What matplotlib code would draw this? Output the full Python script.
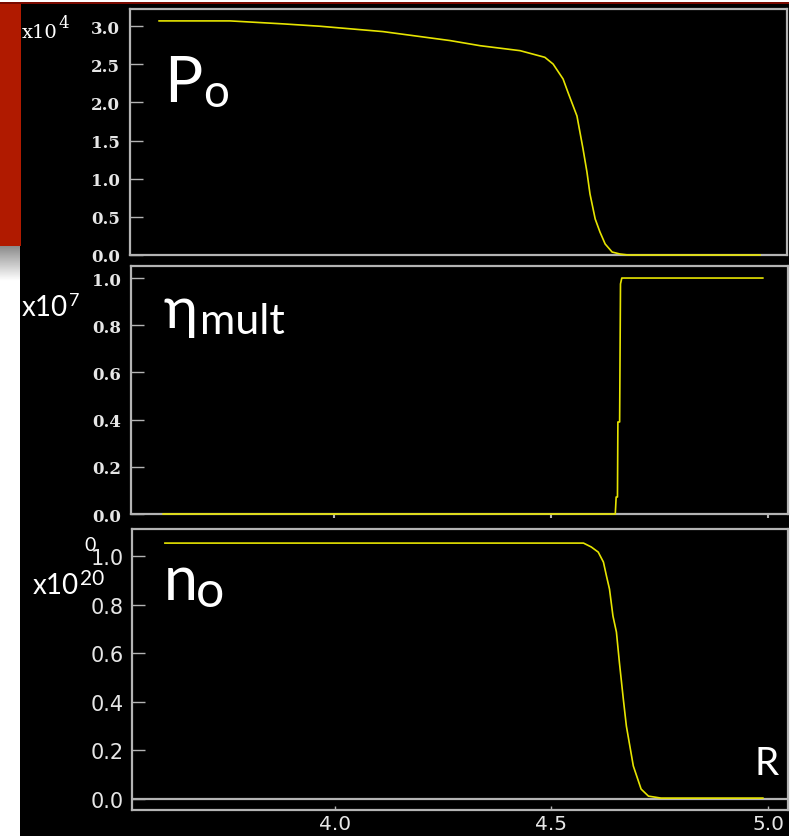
import numpy as np
import matplotlib
matplotlib.use('Agg')
import matplotlib.pyplot as plt
from matplotlib.patches import Rectangle

# Profile data (R on x, values in the multiplier units)
r_p = [3.599, 3.763, 3.885, 3.970, 4.115, 4.270, 4.339, 4.431, 4.488, 4.507,
       4.530, 4.541, 4.562, 4.576, 4.585, 4.592, 4.604, 4.615, 4.627, 4.643,
       4.661, 4.680, 4.984]
p_o = [3.067, 3.067, 3.028, 2.997, 2.927, 2.809, 2.742, 2.677, 2.590, 2.502,
       2.306, 2.135, 1.821, 1.389, 1.087, 0.80, 0.472, 0.301, 0.144, 0.039,
       0.013, 0.0, 0.0]

r_eta = [3.606, 4.648, 4.650, 4.653, 4.654, 4.658, 4.660, 4.663, 4.988]
eta = [0.0, 0.0, 0.072, 0.072, 0.39, 0.39, 0.975, 1.0, 1.0]

r_n = [3.608, 4.574, 4.592, 4.608, 4.620, 4.627, 4.634, 4.642, 4.650, 4.657,
       4.666, 4.673, 4.689, 4.707, 4.724, 4.753, 4.988]
n_o = [1.053, 1.053, 1.037, 1.016, 0.975, 0.918, 0.864, 0.753, 0.687, 0.56,
       0.41, 0.30, 0.136, 0.041, 0.012, 0.004, 0.004]

p_ticks = [0.0, 0.5, 1.0, 1.5, 2.0, 2.5, 3.0]
frac_ticks = [0.0, 0.2, 0.4, 0.6, 0.8, 1.0]
r_ticks = [4.0, 4.5, 5.0]

W, H = 798, 837
XLIM = (3.532, 5.046)
LINE = '#e6e400'
SPINE = '#b4b4b4'
LABEL = '#e6e6e6'


def box(x0, y0, x1, y1):
    # pixel box (top-left origin) -> figure fraction rect
    return [x0 / W, 1 - y1 / H, (x1 - x0) / W, (y1 - y0) / H]


def ftext(x, y, s, **kw):
    kw.setdefault('color', 'white')
    kw.setdefault('va', 'baseline')
    return fig.text(x / W, 1 - y / H, s, **kw)


def power(x, y, base, exp, y_exp, size, exp_size, family):
    # "x10" followed by a raised exponent placed right after it
    t = ftext(x, y, base, family=family, size=size)
    bb = t.get_window_extent(renderer=fig.canvas.get_renderer())
    fig.text(bb.x1 / W + 1 / W, 1 - y_exp / H, exp, color='white', va='baseline',
             family=family, size=exp_size)


fig = plt.figure(figsize=(W / 100, H / 100), dpi=100)
fig.patch.set_facecolor('white')

# slide background: black panel, red bar on the left, red rule on top
fig.patches.append(Rectangle((20 / W, 0), 769 / W, 1 - 5 / H, transform=fig.transFigure,
                             facecolor='black', edgecolor='none', zorder=-10))
fig.patches.append(Rectangle((0, 1 - 247 / H), 21 / W, 242 / H, transform=fig.transFigure,
                             facecolor='#b01a00', edgecolor='none', zorder=-9))
fig.patches.append(Rectangle((0, 1 - 5 / H), 789 / W, 2 / H, transform=fig.transFigure,
                             facecolor='#7a0a00', edgecolor='none', zorder=-9))
gax = fig.add_axes(box(0, 247, 20, 282))
gax.imshow(np.linspace(0.55, 1.0, 50).reshape(-1, 1), cmap='gray', vmin=0, vmax=1,
           aspect='auto')
gax.axis('off')


def style(ax, ylim, yticks, yfont):
    ax.set_facecolor('black')
    ax.set_xlim(*XLIM)
    ax.set_ylim(*ylim)
    for s in ax.spines.values():
        s.set_color(SPINE)
        s.set_linewidth(1.6)
    ax.set_yticks(yticks)
    ax.set_yticklabels([f'{v:.1f}' for v in yticks], fontdict=yfont, color=LABEL)
    ax.tick_params(axis='y', direction='in', length=9.5, width=1, color=SPINE, pad=7)


serif = {'family': 'DejaVu Serif', 'size': 12, 'weight': 'bold'}
plain = {'family': 'DejaVu Sans', 'size': 15}

# P_o panel
ax1 = fig.add_axes(box(130, 10, 787, 256))
ax1.plot(r_p, p_o, color=LINE, lw=1.2, zorder=3, clip_on=False)
style(ax1, (0, 3.223), p_ticks, serif)
ax1.set_xticks([])

# eta_mult panel
ax2 = fig.add_axes(box(131, 267, 788, 515))
ax2.plot(r_eta, eta, color=LINE, lw=1.2, zorder=3, clip_on=False)
style(ax2, (0, 1.051), frac_ticks, serif)
ax2.set_xticks(r_ticks)
ax2.set_xticklabels([])
ax2.tick_params(axis='x', direction='out', length=3, width=1.5, color=SPINE)

# n_o panel
ax3 = fig.add_axes(box(132, 530, 788, 811))
ax3.axhline(0, color=SPINE, lw=1.6)
ax3.plot(r_n, n_o, color=LINE, lw=1.2, zorder=3)
style(ax3, (-0.045, 1.111), frac_ticks, plain)
ax3.tick_params(axis='y', pad=6)
ax3.set_xticks(r_ticks)
ax3.set_xticklabels([f'{v:.1f}' for v in r_ticks],
                    fontdict={'family': 'DejaVu Sans', 'size': 14.5}, color=LABEL)
ax3.tick_params(axis='x', direction='in', length=3, width=1, color=SPINE, pad=3)

sans = ['Lato', 'Open Sans', 'DejaVu Sans']

# multipliers
power(22, 38, 'x10', '4', 28, 14, 12, 'DejaVu Serif')
power(22, 316, 'x10', '7', 306, 20, 13, sans)
power(33, 594, 'x10', '20', 585, 20, 15, sans)
ftext(84, 551, '0', family=sans, size=14)

# panel titles
ftext(164, 102, 'P', family=sans, size=46)
ftext(203, 107, 'o', family=sans, size=33)
ftext(163, 328, 'η', family=sans, size=42)
ftext(200, 334, 'mult', family=sans, size=31)
ftext(164, 600, 'n', family=sans, size=44)
ftext(196, 607, 'o', family=sans, size=36)
ftext(754, 775, 'R', family=sans, size=28)

fig.savefig('out.png', dpi=100, facecolor=fig.get_facecolor())
